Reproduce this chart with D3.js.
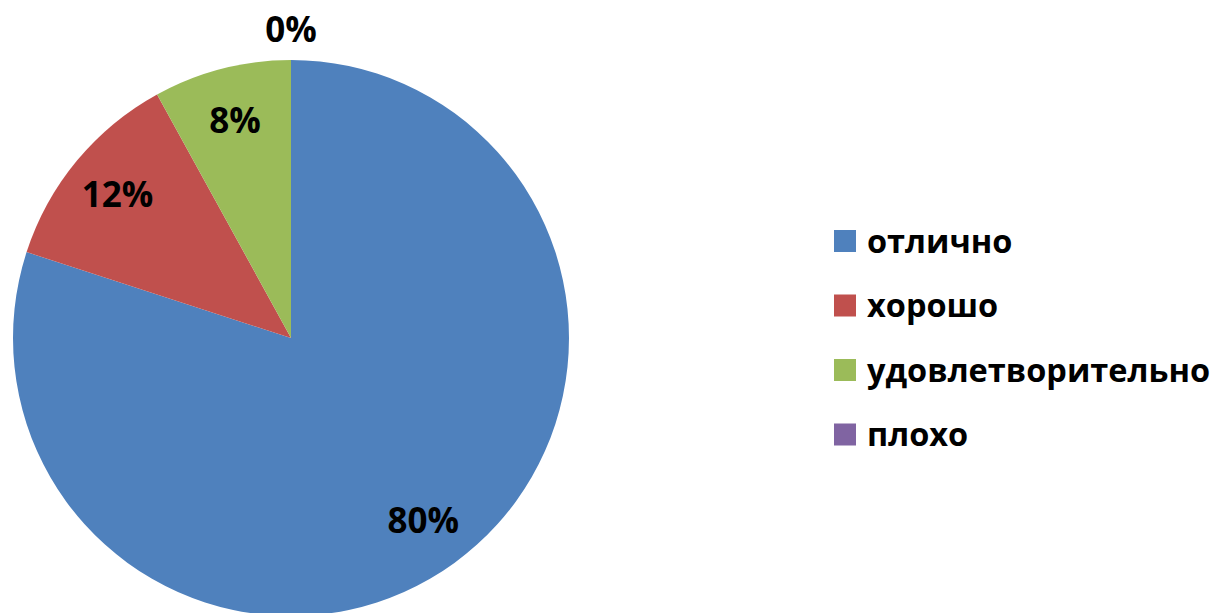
<!DOCTYPE html>
<html lang="ru">
<head>
  <meta charset="UTF-8">
  <title>Pie</title>
  <script src="https://d3js.org/d3.v7.min.js"></script>
  <style>
    body { margin: 0; background: #fff; }
    .lbl { font-family: "Open Sans", "Noto Sans", sans-serif; font-weight: bold; font-size: 35px; fill: #000; text-anchor: middle; }
    .legend text { font-family: "Open Sans", "Noto Sans", sans-serif; font-weight: bold; font-size: 32.5px; fill: #000; }
  </style>
</head>
<body>
  <div id="app"></div>
  <script>
    var categories = ["отлично", "хорошо", "удовлетворительно", "плохо"];
    var values = [80, 12, 8, 0];
    var colors = ["#4F81BD", "#C0504D", "#9BBB59", "#8064A2"];

    var width = 1215, height = 613;
    var cx = 291, cy = 338, radius = 278;

    var svg = d3.select("#app").append("svg")
      .attr("width", width)
      .attr("height", height);

    var pie = d3.pie().sort(null).value(function (d) { return d; });
    var arcs = pie(values);

    var arc = d3.arc().innerRadius(0).outerRadius(radius);
    var labelArc = d3.arc().innerRadius(radius * 0.81).outerRadius(radius * 0.81);
    var outArc = d3.arc().innerRadius(radius + 31).outerRadius(radius + 31);

    var g = svg.append("g")
      .attr("transform", "translate(" + cx + "," + cy + ")");

    g.selectAll("path.slice")
      .data(arcs)
      .enter().append("path")
      .attr("class", "slice")
      .attr("d", arc)
      .attr("fill", function (d, i) { return colors[i]; });

    // подписи долей
    g.selectAll("text.lbl")
      .data(arcs)
      .enter().append("text")
      .attr("class", "lbl")
      .attr("transform", function (d) {
        var c = d.value > 0 ? labelArc.centroid(d) : outArc.centroid(d);
        return "translate(" + c[0] + "," + c[1] + ")";
      })
      .attr("dy", "0.36em")
      .text(function (d) { return d.value + "%"; });

    // легенда
    var legend = svg.append("g")
      .attr("class", "legend")
      .attr("transform", "translate(834,230)");

    var item = legend.selectAll("g")
      .data(categories)
      .enter().append("g")
      .attr("transform", function (d, i) { return "translate(0," + (i * 64.5) + ")"; });

    item.append("rect")
      .attr("width", 22)
      .attr("height", 22)
      .attr("fill", function (d, i) { return colors[i]; });

    item.append("text")
      .attr("x", 33)
      .attr("y", 11)
      .attr("dy", "0.36em")
      .text(function (d) { return d; });
  </script>
</body>
</html>
